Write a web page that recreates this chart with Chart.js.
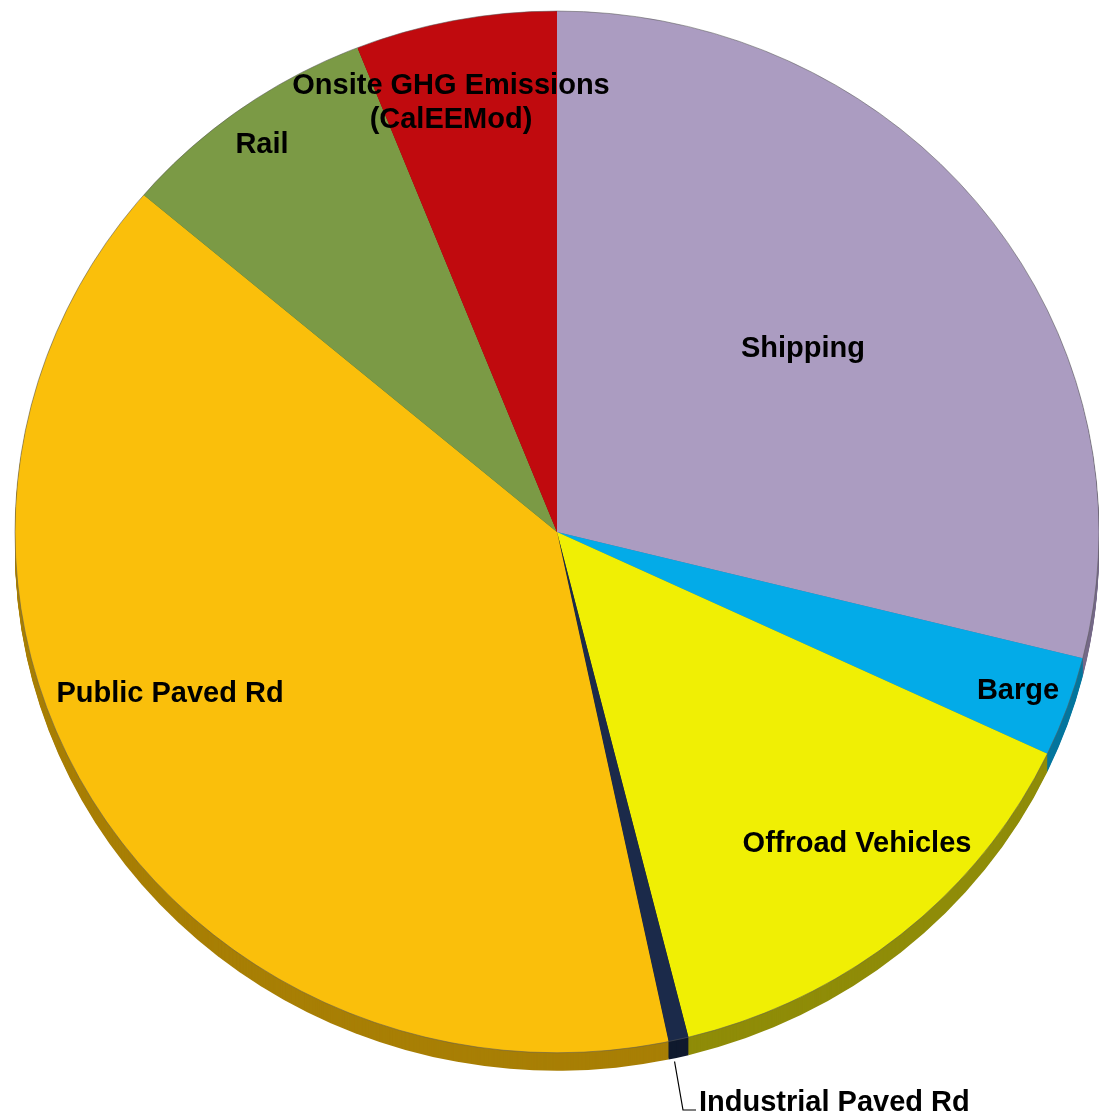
<!DOCTYPE html>
<html>
<head>
<meta charset="utf-8">
<script src="https://cdn.jsdelivr.net/npm/chart.js@4/dist/chart.umd.min.js"></script>
<style>
  html, body { margin: 0; padding: 0; background: #fff; overflow: hidden; }
  #pie { display: block; }
</style>
</head>
<body>
<canvas id="pie" width="1099" height="1119"></canvas>
<script>
// Share of emissions by source (%)
const categorias = ['Shipping', 'Barge', 'Offroad Vehicles', 'Industrial Paved Rd', 'Public Paved Rd', 'Rail', 'Onsite GHG Emissions (CalEEMod)'];
const valores = [28.9, 3.1, 14.1, 0.6, 39.5, 7.8, 6.0];
const cores = ['#ab9cc1', '#03abe8', '#f0ef04', '#1b2a4a', '#fabf0b', '#7b9a45', '#c00a0e'];
const coresLaterais = ['#766a88', '#04769e', '#8f8c08', '#101a2e', '#a87f05', '#4f662b', '#7a0608'];

// Labels: text lines, anchor x, baselines, alignment
const rotulos = [
  { linhas: ['Shipping'], x: 803, y: [357], align: 'center' },
  { linhas: ['Barge'], x: 1018, y: [699], align: 'center' },
  { linhas: ['Offroad Vehicles'], x: 857, y: [852], align: 'center' },
  { linhas: ['Industrial Paved Rd'], x: 699, y: [1111], align: 'left' },
  { linhas: ['Public Paved Rd'], x: 170, y: [702], align: 'center' },
  { linhas: ['Rail'], x: 262, y: [153], align: 'center' },
  { linhas: ['Onsite GHG Emissions', '(CalEEMod)'], x: 451, y: [94, 128], align: 'center' }
];

const ACHATAR = 0.961; // vertical squash so the pie reads as tilted
const ESPESSURA = 18;  // depth of the side wall

function fatia(ctx, a) {
  ctx.beginPath();
  ctx.moveTo(a.x, a.y);
  ctx.arc(a.x, a.y, a.outerRadius, a.startAngle, a.endAngle);
  ctx.closePath();
}

const pizza3d = {
  id: 'pizza3d',
  beforeDatasetsDraw(chart) {
    const ctx = chart.ctx;
    const arcs = chart.getDatasetMeta(0).data;
    // side wall: slices repeated downwards in darker tones
    for (let d = ESPESSURA; d > 0; d -= 1) {
      ctx.save();
      ctx.translate(0, d);
      ctx.scale(1, ACHATAR);
      arcs.forEach((a, i) => {
        fatia(ctx, a);
        ctx.fillStyle = coresLaterais[i];
        ctx.fill();
      });
      ctx.restore();
    }
    // top face drawn by the library under the same squash
    ctx.save();
    ctx.scale(1, ACHATAR);
  },
  afterDatasetsDraw(chart) {
    const ctx = chart.ctx;
    ctx.restore();

    // thin rim outline
    const arcs = chart.getDatasetMeta(0).data;
    const a0 = arcs[0];
    ctx.save();
    ctx.scale(1, ACHATAR);
    ctx.beginPath();
    ctx.arc(a0.x, a0.y, a0.outerRadius, 0, Math.PI * 2);
    ctx.restore();
    ctx.strokeStyle = 'rgba(90,90,90,0.55)';
    ctx.lineWidth = 1;
    ctx.stroke();

    // leader line for the thin Industrial slice
    const ind = arcs[3];
    const meio = (ind.startAngle + ind.endAngle) / 2;
    const px = ind.x + ind.outerRadius * Math.cos(meio);
    const py = (ind.y + ind.outerRadius * Math.sin(meio)) * ACHATAR + ESPESSURA;
    ctx.beginPath();
    ctx.moveTo(px - 4, py + 4);
    ctx.lineTo(683, 1110);
    ctx.lineTo(696, 1110);
    ctx.strokeStyle = '#000';
    ctx.lineWidth = 1.2;
    ctx.stroke();

    ctx.fillStyle = '#000';
    ctx.font = 'bold 29px "Liberation Sans", Arial, sans-serif';
    ctx.textBaseline = 'alphabetic';
    rotulos.forEach((r) => {
      ctx.textAlign = r.align;
      r.linhas.forEach((t, k) => ctx.fillText(t, r.x, r.y[k]));
    });
  }
};

new Chart(document.getElementById('pie').getContext('2d'), {
  type: 'pie',
  data: {
    labels: categorias,
    datasets: [{
      data: valores,
      backgroundColor: cores,
      borderWidth: 0,
      hoverOffset: 0,
      offset: 0
    }]
  },
  options: {
    responsive: false,
    animation: false,
    events: [],
    layout: { padding: { left: 15, right: 0, top: 0, bottom: 12 } },
    plugins: {
      legend: { display: false },
      tooltip: { enabled: false }
    }
  },
  plugins: [pizza3d]
});
</script>
</body>
</html>
